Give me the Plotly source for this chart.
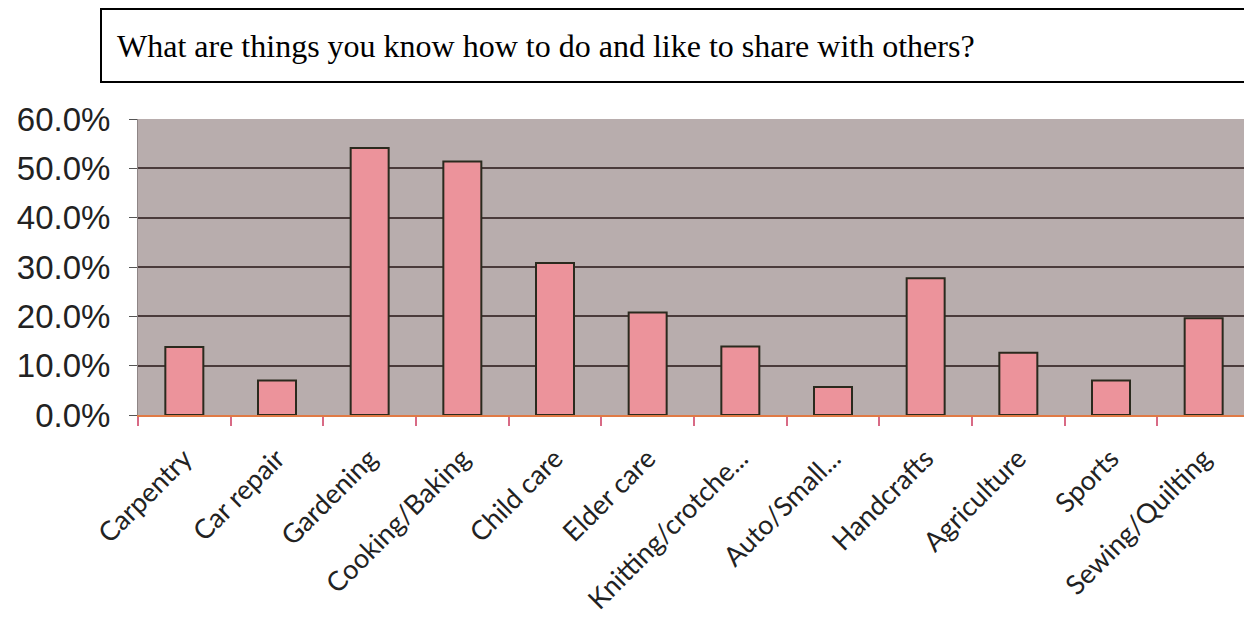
import plotly.graph_objects as go

categories = ["Carpentry", "Car repair", "Gardening", "Cooking/Baking", "Child care",
              "Elder care", "Knitting/crotche...", "Auto/Small...", "Handcrafts",
              "Agriculture", "Sports", "Sewing/Quilting"]
shares = [0.138, 0.070, 0.541, 0.514, 0.308, 0.208, 0.139, 0.057, 0.277, 0.126, 0.070, 0.196]
y_ticks = [0.0, 0.1, 0.2, 0.3, 0.4, 0.5, 0.6]
title_text = "What are things you know how to do and like to share with others?"

# page body has an 8px margin; size the figure so the page fills 1252x618
OFF = 8
W, H = 1252 - OFF, 618 - OFF
ML, MR, MT, MB = 138 - OFF, 2, 119 - OFF, 618 - 415

fig = go.Figure(go.Bar(
    x=categories, y=shares,
    marker=dict(color="#EC939B", line=dict(color="#2A2A1E", width=2)),
))

def px_x(px):
    return (px - OFF - ML) / (W - ML - MR)

def px_y(py):
    return 1 - (py - OFF - MT) / (H - MT - MB)

fig.add_shape(type="rect", xref="paper", yref="paper",
              x0=px_x(101), x1=px_x(1251), y0=px_y(82), y1=px_y(9),
              line=dict(color="black", width=2), fillcolor="white", layer="above")
fig.add_annotation(xref="paper", yref="paper", x=px_x(115), y=px_y(46),
                   xanchor="left", yanchor="middle", showarrow=False,
                   text=title_text,
                   font=dict(family="Liberation Serif", size=32, color="black"))

fig.update_layout(
    width=W, height=H,
    margin=dict(l=ML, r=MR, t=MT, b=MB, autoexpand=False),
    paper_bgcolor="white", plot_bgcolor="#B8ADAD",
    bargap=0.59, showlegend=False,
)
fig.update_xaxes(
    tickangle=-45, tickson="boundaries", ticks="outside", ticklen=9,
    tickcolor="#D86A85", tickwidth=1.5,
    showline=True, linecolor="#E07A45", linewidth=2,
    showgrid=False, ticklabelstandoff=15, automargin=False,
    tickfont=dict(family="Lato", size=27, color="#222222"),
)
fig.update_yaxes(
    range=[0, 0.6], tickvals=y_ticks, tickformat=".1%",
    ticks="outside", ticklen=8, tickcolor="#555555",
    showgrid=True, gridcolor="#4A3B3B", gridwidth=1.5,
    showline=True, linecolor="#8E8585", linewidth=1,
    zeroline=False, ticklabelstandoff=12, automargin=False,
    tickfont=dict(family="Liberation Sans", size=33, color="#222222"),
)
fig.write_html("out.html")
